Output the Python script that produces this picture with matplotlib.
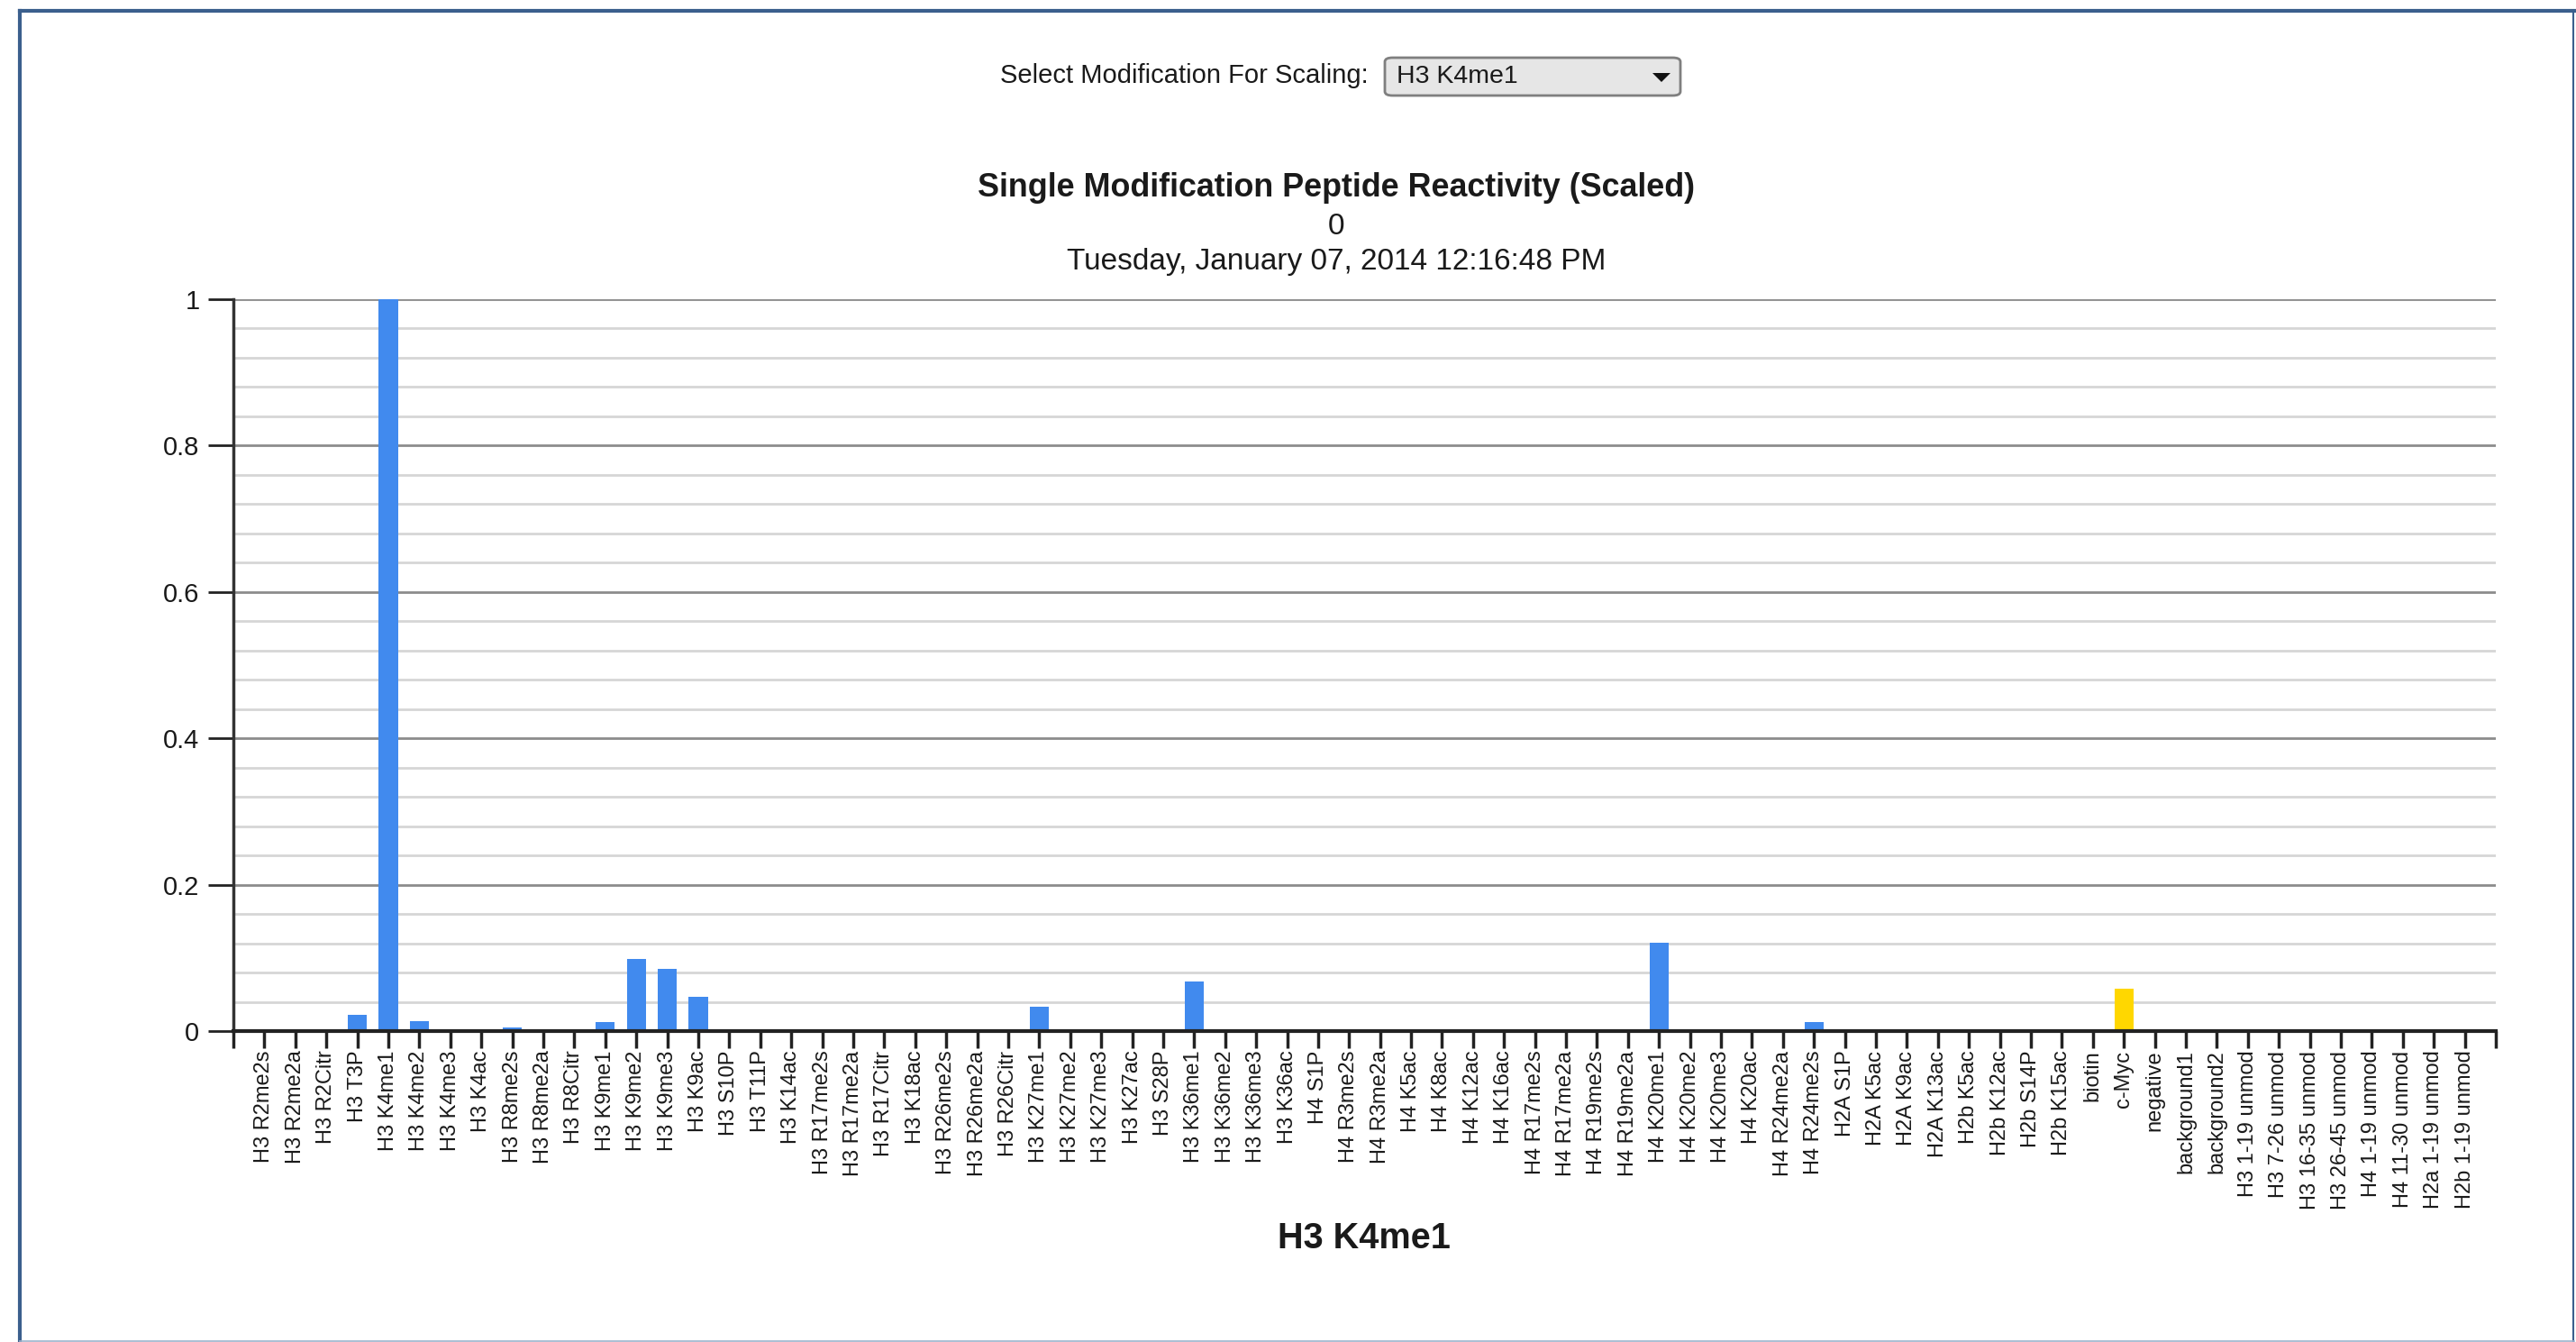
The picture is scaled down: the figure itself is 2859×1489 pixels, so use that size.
import matplotlib
matplotlib.use("Agg")
import matplotlib.pyplot as plt
from matplotlib.patches import FancyBboxPatch, Polygon
from matplotlib.lines import Line2D

plt.rcParams['font.family'] = ['Liberation Sans', 'DejaVu Sans']

# peptide names along the x axis
peptides = [
    "H3 R2me2s", "H3 R2me2a", "H3 R2Citr", "H3 T3P", "H3 K4me1", "H3 K4me2",
    "H3 K4me3", "H3 K4ac", "H3 R8me2s", "H3 R8me2a", "H3 R8Citr", "H3 K9me1",
    "H3 K9me2", "H3 K9me3", "H3 K9ac", "H3 S10P", "H3 T11P", "H3 K14ac",
    "H3 R17me2s", "H3 R17me2a", "H3 R17Citr", "H3 K18ac", "H3 R26me2s",
    "H3 R26me2a", "H3 R26Citr", "H3 K27me1", "H3 K27me2", "H3 K27me3",
    "H3 K27ac", "H3 S28P", "H3 K36me1", "H3 K36me2", "H3 K36me3", "H3 K36ac",
    "H4 S1P", "H4 R3me2s", "H4 R3me2a", "H4 K5ac", "H4 K8ac", "H4 K12ac",
    "H4 K16ac", "H4 R17me2s", "H4 R17me2a", "H4 R19me2s", "H4 R19me2a",
    "H4 K20me1", "H4 K20me2", "H4 K20me3", "H4 K20ac", "H4 R24me2a",
    "H4 R24me2s", "H2A S1P", "H2A K5ac", "H2A K9ac", "H2A K13ac", "H2b K5ac",
    "H2b K12ac", "H2b S14P", "H2b K15ac", "biotin", "c-Myc", "negative",
    "background1", "background2", "H3 1-19 unmod", "H3 7-26 unmod",
    "H3 16-35 unmod", "H3 26-45 unmod", "H4 1-19 unmod", "H4 11-30 unmod",
    "H2a 1-19 unmod", "H2b 1-19 unmod",
]

# scaled reactivity, everything else is 0
reactivity = {
    "H3 T3P": 0.022, "H3 K4me1": 1.0, "H3 K4me2": 0.014, "H3 K4me3": 0.002,
    "H3 R8me2s": 0.005, "H3 K9me1": 0.012, "H3 K9me2": 0.098,
    "H3 K9me3": 0.085, "H3 K9ac": 0.047, "H3 R26Citr": 0.0025,
    "H3 K27me1": 0.033, "H3 K36me1": 0.068, "H4 R3me2a": 0.002,
    "H4 K20me1": 0.121, "H4 R24me2s": 0.012, "c-Myc": 0.058,
}
values = [reactivity.get(p, 0.0) for p in peptides]
control = "c-Myc"

selected = "H3 K4me1"
title = "Single Modification Peptide Reactivity (Scaled)"
subtitle = "0"
stamp = "Tuesday, January 07, 2014 12:16:48 PM"

W, H = 2859, 1489
fig = plt.figure(figsize=(W / 100, H / 100), dpi=100)
fig.patch.set_facecolor("white")

def fx(px):
    return px / W

def fy(py):
    return 1 - py / H

ax = fig.add_axes([fx(259), fy(1144), fx(2770) - fx(259), fy(332) - fy(1144)])

xs = list(range(1, len(peptides) + 1))
colors = ["#FFD700" if p == control else "#418AEE" for p in peptides]
ax.bar(xs, values, width=0.62, color=colors, zorder=3)

ax.set_xlim(0, len(peptides) + 1)
ax.set_ylim(0, 1)

ax.set_xticks(range(0, len(peptides) + 2))
ax.set_xticklabels([""] + peptides + [""], rotation=90, fontsize=17, color="#1a1a1a")
ax.set_yticks([0, 0.2, 0.4, 0.6, 0.8, 1.0])
ax.set_yticklabels(["0", "0.2", "0.4", "0.6", "0.8", "1"], fontsize=21, color="#1a1a1a")
ax.set_yticks([i * 0.04 for i in range(26)], minor=True)
ax.tick_params(axis="y", which="minor", length=0)
ax.tick_params(axis="y", which="major", length=20, width=2, color="#222222", pad=7)
ax.tick_params(axis="x", which="major", length=14, width=2.5, color="#222222", pad=1.5)

ax.grid(axis="y", which="minor", color="#d6d6d6", lw=2, zorder=1)
ax.grid(axis="y", which="major", color="#8c8c8c", lw=2, zorder=1)
ax.set_axisbelow(True)

for s in ["top", "right"]:
    ax.spines[s].set_visible(False)
ax.spines["left"].set_color("#333333")
ax.spines["left"].set_linewidth(2.5)
ax.spines["bottom"].set_color("#222222")
ax.spines["bottom"].set_linewidth(3)
ax.spines["bottom"].set_zorder(4)

# x axis title
fig.text(fx(1514), fy(1374), selected, ha="center", va="center", fontsize=28.5, fontweight="bold", color="#1a1a1a")

# headings above the plot
fig.text(fx(1483), fy(208), title, ha="center", va="center", fontsize=25.8, fontweight="bold", color="#1a1a1a")
fig.text(fx(1483), fy(251), subtitle, ha="center", va="center", fontsize=24, color="#1a1a1a")
fig.text(fx(1483), fy(290), stamp, ha="center", va="center", fontsize=24, color="#1a1a1a")

# the scaling selector on top
fig.text(fx(1519), fy(84), "Select Modification For Scaling:", ha="right", va="center", fontsize=21, color="#1a1a1a")
box = FancyBboxPatch((fx(1537), fy(106)), fx(1865) - fx(1537), fy(64) - fy(106),
                     boxstyle="round,pad=0,rounding_size=0.003", transform=fig.transFigure,
                     facecolor="#e6e6e6", edgecolor="#7f7f7f", lw=2)
fig.patches.append(box)
fig.text(fx(1550), fy(85), selected, ha="left", va="center", fontsize=20.5, color="#1a1a1a")
tri = Polygon([(fx(1834), fy(81)), (fx(1854), fy(81)), (fx(1844), fy(91))],
              closed=True, transform=fig.transFigure, facecolor="#111111", edgecolor="none")
fig.patches.append(tri)

# frame around the panel
frame = "#3B5F8D"
fig.lines.append(Line2D([fx(22), fx(2857)], [fy(12), fy(12)], transform=fig.transFigure, color=frame, lw=3))
fig.lines.append(Line2D([fx(22), fx(22)], [fy(12), fy(1489)], transform=fig.transFigure, color=frame, lw=3))
fig.lines.append(Line2D([fx(2856), fx(2856)], [fy(12), fy(1489)], transform=fig.transFigure, color=frame, lw=1.5))
fig.lines.append(Line2D([fx(22), fx(2857)], [fy(1488), fy(1488)], transform=fig.transFigure, color="#9db3cc", lw=1.2))

fig.savefig("out.png", dpi=100)
